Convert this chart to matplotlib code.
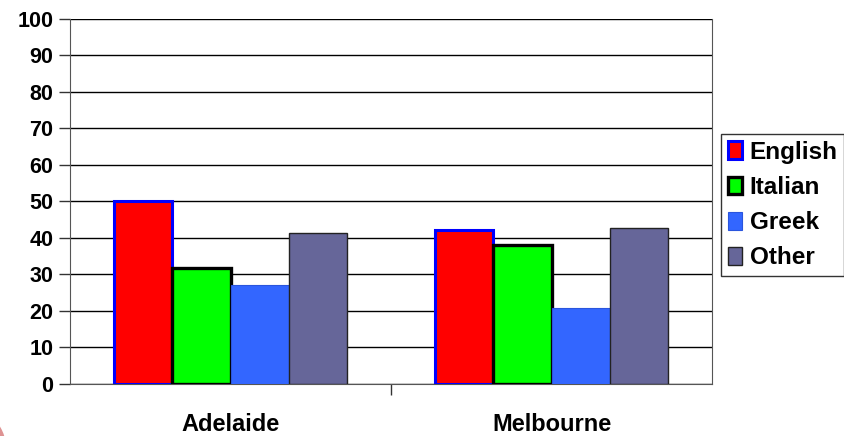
import matplotlib
matplotlib.use("Agg")
import matplotlib.pyplot as plt
from matplotlib.patches import Arc
import numpy as np

plt.rcParams['font.family'] = ['Liberation Sans', 'DejaVu Sans']
plt.rcParams['font.weight'] = 'bold'

cities = ["Adelaide", "Melbourne"]
languages = ["English", "Italian", "Greek", "Other"]
english = [50, 42.1]
italian = [31.6, 37.9]
greek = [27.0, 20.7]
other = [41.2, 42.7]
y_ticks = [0, 10, 20, 30, 40, 50, 60, 70, 80, 90, 100]

series = [english, italian, greek, other]
faces = ["#FF0000", "#00FF00", "#3366FF", "#666699"]
edges = ["#0000FF", "#000000", "#2a55dd", "#222222"]
widths = [2.2, 2.4, 0.8, 1.0]

fig = plt.figure(figsize=(8.44, 4.36), dpi=100)
ax = fig.add_axes([70 / 844, 1 - 383.7 / 436, 642 / 844, 365 / 436])

x = np.arange(len(cities))
bw = 1 / 5.5
for i, (vals, fc, ec, lw) in enumerate(zip(series, faces, edges, widths)):
    ax.bar(x + (i - 1.5) * bw, vals, width=bw, color=fc, edgecolor=ec,
           linewidth=lw, label=languages[i], zorder=3)

ax.set_xlim(-0.5, 1.5)
ax.set_ylim(0, 100)
ax.set_yticks(y_ticks)
ax.set_yticklabels([str(v) for v in y_ticks], fontsize=15.5, fontweight='bold')
ax.yaxis.grid(True, color="#000000", linewidth=1.0, zorder=0)
ax.set_axisbelow(True)

ax.set_xticks(x)
ax.set_xticklabels(cities, fontsize=17, fontweight='bold')
ax.tick_params(axis='x', length=0, pad=21)
ax.set_xticks([0.5], minor=True)
ax.tick_params(axis='x', which='minor', length=8, width=1, color="#333333")
ax.tick_params(axis='y', length=8, width=1, color="#333333", pad=4)

ax.spines["top"].set_visible(False)
ax.spines["left"].set_color("#555555")
ax.spines["right"].set_color("#555555")
ax.spines["bottom"].set_color("#555555")

leg = ax.legend(loc="upper left", bbox_to_anchor=(721 / 844, 1 - 134 / 436),
                bbox_transform=fig.transFigure, frameon=True, fancybox=False,
                prop={'weight': 'bold', 'size': 17.5},
                handlelength=0.6, handleheight=0.75, handletextpad=0.3,
                labelspacing=0.5, borderpad=0.28, borderaxespad=0)
leg.get_frame().set_edgecolor("#000000")
leg.get_frame().set_linewidth(1.0)

# faint red arc at the lower-left corner
arc = Arc((-0.05, -0.03), 0.11, 0.2, theta1=0, theta2=90,
          transform=fig.transFigure, color="#c43a3a", linewidth=3, alpha=0.55)
fig.add_artist(arc)

fig.savefig("out.png", dpi=100)
